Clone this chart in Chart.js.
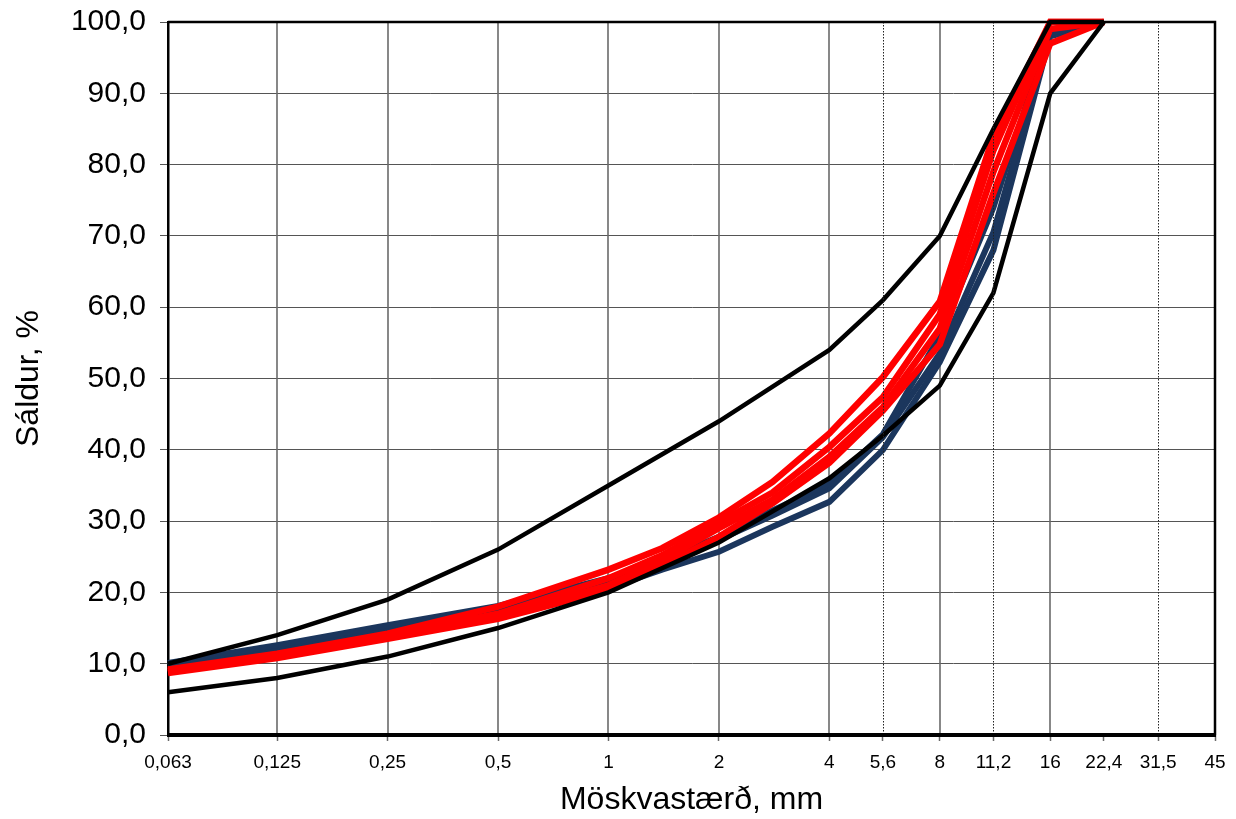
<!DOCTYPE html>
<html>
<head>
<meta charset="utf-8">
<script src="https://cdn.jsdelivr.net/npm/chart.js@4.4.1/dist/chart.umd.min.js"></script>
<style>
html,body{margin:0;padding:0;background:#fff;}
#wrap{width:1236px;height:819px;}
</style>
</head>
<body>
<div id="wrap"><canvas id="c" width="1236" height="819"></canvas></div>
<script>
// Sieve sizes (mm)
const sieves = [0.063, 0.125, 0.25, 0.5, 1, 1.4, 2, 2.8, 4, 5.6, 8, 11.2, 16, 22.4];
// Tick values & labels on the x axis
const xTickValues = [0.063, 0.125, 0.25, 0.5, 1, 2, 4, 5.6, 8, 11.2, 16, 22.4, 31.5, 45];
const xTickLabels = ["0,063", "0,125", "0,25", "0,5", "1", "2", "4", "5,6", "8", "11,2", "16", "22,4", "31,5", "45"];
const solidGrid = [0.125, 0.25, 0.5, 1, 2, 4, 8, 16];
const dottedGrid = [5.6, 11.2, 31.5];

// Envelope limits (black)
const upperLimit = [10, 14, 19, 26, 35, null, 44, null, 54, 61, 70, 85, 100, 100];
const lowerLimit = [6, 8, 11, 15, 20, null, 27, null, 36, 42, 49, 62, 90, 100];

// Samples (red)
const red1 = [9.2, 11.4, 14.2, 18.0, 23.2, 26.2, 30.5, 35.5, 42.3, 50.2, 60.8, 84.0, 100, 100];
const red2 = [9.0, 11.2, 14.0, 17.0, 22.0, 25.2, 29.8, 34.0, 40.4, 47.4, 59.0, 82.0, 100, 100];
const red3 = [8.9, 11.0, 13.8, 16.6, 21.0, 24.5, 29.0, 33.0, 39.0, 46.0, 57.0, 79.0, 99, 100];
const red4 = [8.7, 10.8, 13.5, 16.3, 20.3, 23.8, 27.8, 32.5, 38.2, 45.5, 54.8, 76.0, 97, 100];

// Samples (dark blue)
const blue1 = [10.1, 12.6, 15.4, 18.1, 22.0, 24.5, 27.8, 31.5, 35.2, 42.2, 56.0, 74.0, 99, 100];
const blue2 = [9.9, 12.3, 15.1, 17.8, 21.7, 24.2, 27.4, 30.8, 34.6, 41.8, 53.5, 70.5, 98.5, 100];
const blue3 = [9.7, 12.1, 14.9, 17.6, 20.6, 23.2, 25.7, 29.2, 32.7, 40.0, 52.3, 68.0, 98, 100];

const RED = '#ff0000';
const BLUE = '#1b365d';
const BLACK = '#000000';
const FONT = 'Liberation Sans, Arial, sans-serif';

function pts(vals) {
  return sieves.map((s, i) => ({x: s, y: vals[i]})).filter(p => p.y !== null);
}
function ds(label, vals, color, width) {
  return {label, data: pts(vals), borderColor: color, backgroundColor: color,
    borderWidth: width, pointRadius: 0, pointHoverRadius: 0, tension: 0, fill: false, clip: false};
}

const xGridPlugin = {
  id: 'xGridPlugin',
  beforeDatasetsDraw(chart) {
    const {ctx, chartArea: {top, bottom}, scales: {x}} = chart;
    ctx.save();
    ctx.strokeStyle = '#6a6a6a';
    ctx.lineWidth = 1.6;
    solidGrid.forEach(v => {
      const px = Math.round(x.getPixelForValue(v));
      ctx.beginPath(); ctx.moveTo(px, top); ctx.lineTo(px, bottom); ctx.stroke();
    });
    ctx.restore();
  },
  afterDatasetsDraw(chart) {
    const {ctx, chartArea: {left, right, top, bottom}, scales: {x}} = chart;
    ctx.save();
    ctx.strokeStyle = '#222';
    ctx.lineWidth = 1;
    ctx.setLineDash([1.5, 1.5]);
    dottedGrid.forEach(v => {
      const px = Math.round(x.getPixelForValue(v)) + 0.5;
      ctx.beginPath(); ctx.moveTo(px, top); ctx.lineTo(px, bottom); ctx.stroke();
    });
    ctx.setLineDash([]);
    ctx.strokeStyle = '#000';
    ctx.lineWidth = 2.5;
    ctx.beginPath();
    ctx.moveTo(left, top); ctx.lineTo(right, top); ctx.lineTo(right, bottom);
    ctx.stroke();
    ctx.lineWidth = 4;
    ctx.beginPath(); ctx.moveTo(left - 1, bottom); ctx.lineTo(right + 1, bottom); ctx.stroke();
    ctx.restore();
  }
};

new Chart(document.getElementById('c'), {
  type: 'line',
  data: {
    datasets: [
      ds('Efri mörk', upperLimit, BLACK, 4.5),
      ds('Neðri mörk', lowerLimit, BLACK, 4.5),
      ds('S1', red1, RED, 6.5),
      ds('S2', red2, RED, 6.5),
      ds('S3', red3, RED, 6.5),
      ds('S4', red4, RED, 6.5),
      ds('S5', blue1, BLUE, 6),
      ds('S6', blue2, BLUE, 6),
      ds('S7', blue3, BLUE, 6)
    ]
  },
  options: {
    responsive: false,
    animation: false,
    events: [],
    layout: {padding: {left: 0, right: 21, top: 22, bottom: 0}},
    plugins: {legend: {display: false}, tooltip: {enabled: false}},
    scales: {
      x: {
        type: 'logarithmic',
        min: 0.063,
        max: 45,
        afterBuildTicks: (scale) => { scale.ticks = xTickValues.map(v => ({value: v})); },
        afterFit: (scale) => { scale.height = 84; scale.paddingLeft = 0; scale.paddingRight = 0; },
        ticks: {
          autoSkip: false, maxRotation: 0, minRotation: 0, padding: 10,
          color: '#000',
          font: {family: FONT, size: 19},
          callback: (v, i) => xTickLabels[i]
        },
        grid: {drawOnChartArea: false, drawTicks: true, tickLength: 6, tickColor: '#6a6a6a', tickWidth: 1.5},
        border: {display: false},
        title: {
          display: true, text: 'Möskvastærð, mm', color: '#000',
          font: {family: FONT, size: 32},
          padding: {top: 0, bottom: 0}
        }
      },
      y: {
        type: 'linear',
        min: 0, max: 100,
        afterFit: (scale) => { scale.width = 168; scale.paddingTop = 0; scale.paddingBottom = 0; },
        ticks: {
          stepSize: 10, padding: 14, color: '#000',
          font: {family: FONT, size: 30},
          callback: (v) => v.toFixed(1).replace('.', ',')
        },
        grid: {color: '#555', lineWidth: 1, tickLength: 8, tickColor: '#555'},
        border: {display: true, color: '#000', width: 2.5},
        title: {
          display: true, text: 'Sáldur, %', color: '#000',
          font: {family: FONT, size: 32},
          padding: {top: 10, bottom: 0}
        }
      }
    }
  },
  plugins: [xGridPlugin]
});
</script>
</body>
</html>
